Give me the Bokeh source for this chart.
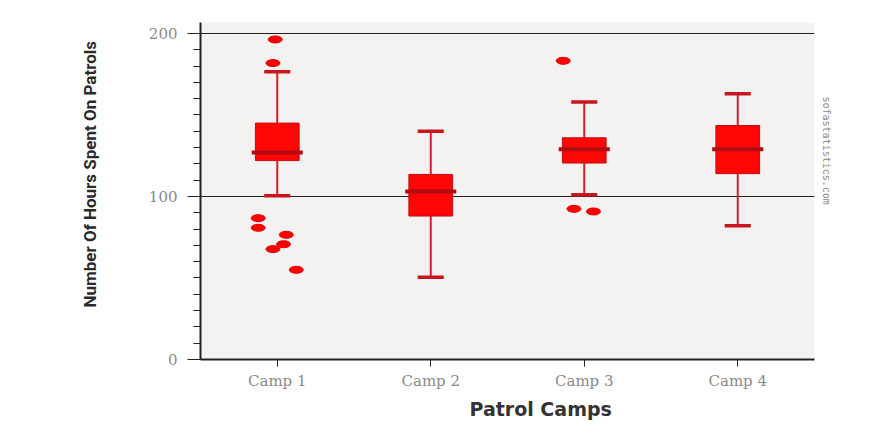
from bokeh.plotting import figure
from bokeh.models import FactorRange, Range1d, FixedTicker, ColumnDataSource, Title
from bokeh.embed import file_html
from bokeh.resources import INLINE

# ---- data ----
camps = ["Camp 1", "Camp 2", "Camp 3", "Camp 4"]
q1 = [122.0, 88.0, 120.5, 114.0]
median = [127.0, 103.0, 129.0, 129.0]
q3 = [145.0, 113.5, 136.0, 143.5]
whisker_low = [100.5, 50.5, 101.0, 82.0]
whisker_high = [176.5, 140.0, 158.0, 163.0]

outlier_camp = ["Camp 1"] * 8 + ["Camp 3"] * 3
outlier_jitter = [-0.013, -0.028, -0.124, -0.124, 0.059, 0.041, -0.028, 0.124,
                  -0.137, -0.067, 0.06]
outlier_value = [196.3, 181.8, 86.7, 80.8, 76.5, 70.7, 67.7, 55.0,
                 183.2, 92.4, 90.8]

y_ticks = [0, 100, 200]
y_minor = list(range(0, 210, 10))

# ---- figure ----
p = figure(
    x_range=FactorRange(*camps, range_padding=0),
    y_range=Range1d(0, 206.7),
    frame_width=614, frame_height=337,
    min_border_left=200, min_border_right=55, min_border_top=22, min_border_bottom=67,
    output_backend="svg", toolbar_location=None,
    background_fill_color="#f3f2f1", border_fill_color="white",
)
p.outline_line_color = None

src = ColumnDataSource(dict(camp=camps, q1=q1, q2=median, q3=q3,
                            lo=whisker_low, hi=whisker_high))

# whiskers
p.segment(x0="camp", y0="q3", x1="camp", y1="hi", source=src, line_color="#d0202a", line_width=2)
p.segment(x0="camp", y0="q1", x1="camp", y1="lo", source=src, line_color="#d0202a", line_width=2)
p.rect(x="camp", y="hi", width=0.17, height=3.5, height_units="screen", source=src,
       fill_color="#c8161e", line_color=None)
p.rect(x="camp", y="lo", width=0.17, height=3.5, height_units="screen", source=src,
       fill_color="#c8161e", line_color=None)
# boxes
p.vbar(x="camp", width=0.285, bottom="q1", top="q3", source=src,
       fill_color="#ff0606", line_color="#c40c12", line_width=1)
# medians
p.rect(x="camp", y="q2", width=0.333, height=4, height_units="screen", source=src,
       fill_color="#b00d10", line_color=None)

# outliers
ox = [(c, j) for c, j in zip(outlier_camp, outlier_jitter)]
p.ellipse(x=ox, y=outlier_value, width=14, height=7, width_units="screen",
          height_units="screen", fill_color="#ff0000", line_color="#e00000")

# ---- axes ----
p.yaxis.ticker = FixedTicker(ticks=y_ticks, minor_ticks=y_minor)
p.yaxis.axis_line_width = 2
p.yaxis.axis_line_color = "#222222"
p.yaxis.major_tick_out = 13
p.yaxis.major_tick_in = 0
p.yaxis.minor_tick_out = 7
p.yaxis.minor_tick_in = 0
p.yaxis.major_tick_line_color = "#222222"
p.yaxis.minor_tick_line_color = "#222222"
p.yaxis.major_label_text_font = "DejaVu Serif"
p.yaxis.major_label_text_font_size = "15px"
p.yaxis.major_label_text_color = "#8a8a8a"
p.yaxis.major_label_standoff = 10

p.xaxis.axis_line_width = 2
p.xaxis.axis_line_color = "#222222"
p.xaxis.major_tick_out = 7
p.xaxis.major_tick_in = 0
p.xaxis.major_tick_line_color = "#222222"
p.xaxis.major_label_text_font = "DejaVu Serif"
p.xaxis.major_label_text_font_size = "15px"
p.xaxis.major_label_text_color = "#8a8a8a"
p.xaxis.major_label_standoff = 5

p.xgrid.grid_line_color = None
p.ygrid.ticker = FixedTicker(ticks=y_ticks)
p.ygrid.grid_line_color = "#222222"
p.ygrid.grid_line_width = 1

p.add_layout(Title(text="Number Of Hours Spent On Patrols", align="left", offset=52,
                   text_font="Roboto", text_font_size="17px",
                   text_font_style="bold", text_color="#2a2a2a", standoff=91), "left")

p.add_layout(Title(text="Patrol Camps", align="left", offset=269,
                   text_font="DejaVu Sans", text_font_size="19px",
                   text_font_style="bold", text_color="#333333", standoff=6), "below")

p.add_layout(Title(text="sofastatistics.com", align="left", offset=74,
                   text_font="DejaVu Sans Mono", text_font_size="10px",
                   text_font_style="normal", text_color="#8a8a8a", standoff=12), "right")

open("out.html", "w").write(file_html(p, INLINE))
